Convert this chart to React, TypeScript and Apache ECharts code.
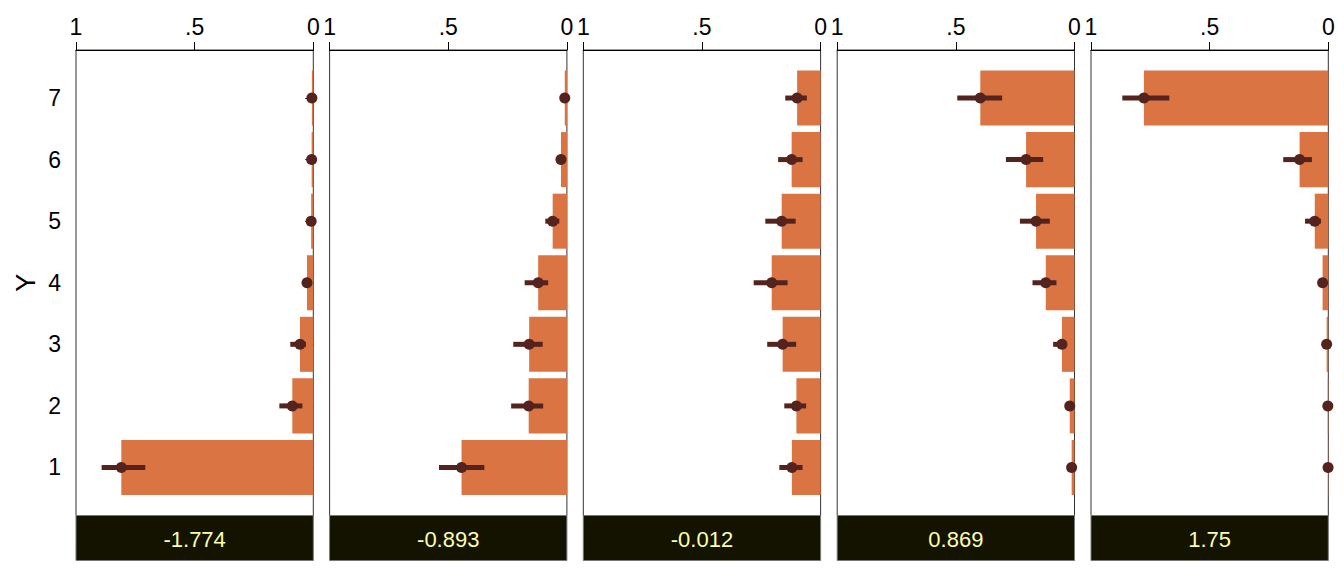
import React, { useEffect, useRef } from "react";
import * as echarts from "echarts";

const categories = [1, 2, 3, 4, 5, 6, 7];
const panelLabels = ["-1.774", "-0.893", "-0.012", "0.869", "1.75"];
const xTickValues = [0, 0.5, 1];
const xTickLabels = ["0", ".5", "1"];

// probability estimates per panel, for Y = 1..7
const est1 = [0.809, 0.0885, 0.056, 0.0265, 0.009, 0.007, 0.006];
const est2 = [0.444, 0.161, 0.159, 0.121, 0.06, 0.025, 0.009];
const est3 = [0.121, 0.102, 0.16, 0.206, 0.164, 0.122, 0.099];
const est4 = [0.012, 0.02, 0.053, 0.121, 0.162, 0.204, 0.397];
const est5 = [0.001, 0.002, 0.007, 0.024, 0.057, 0.121, 0.777];

const lo1 = [0.708, 0.046, 0.031, 0.016, 0.003, 0.002, 0.002];
const hi1 = [0.892, 0.143, 0.097, 0.038, 0.016, 0.013, 0.011];
const lo2 = [0.348, 0.1, 0.102, 0.079, 0.032, 0.012, 0.003];
const hi2 = [0.539, 0.235, 0.226, 0.178, 0.091, 0.04, 0.018];
const lo3 = [0.076, 0.061, 0.103, 0.139, 0.105, 0.076, 0.058];
const hi3 = [0.174, 0.153, 0.225, 0.282, 0.233, 0.179, 0.149];
const lo4 = [0.005, 0.01, 0.035, 0.076, 0.104, 0.132, 0.305];
const hi4 = [0.02, 0.032, 0.09, 0.177, 0.23, 0.289, 0.494];
const lo5 = [0.0, 0.0, 0.002, 0.012, 0.031, 0.069, 0.67];
const hi5 = [0.003, 0.005, 0.013, 0.036, 0.098, 0.19, 0.868];

const estimates = [est1, est2, est3, est4, est5];
const lows = [lo1, lo2, lo3, lo4, lo5];
const highs = [hi1, hi2, hi3, hi4, hi5];

const BAR_COLOR = "#DB7443";
const PT_COLOR = "#55231E";
const STRIP_COLOR = "#131300";
const STRIP_TEXT = "#FFFFAA";
const FONT = "Liberation Sans, Arial, sans-serif";

export default function App() {
  const ref = useRef<HTMLDivElement>(null);
  useEffect(() => {
    if (!ref.current) return;
    const chart = echarts.init(ref.current, null, { renderer: "svg" });
    const lefts = [76, 329.6, 583.3, 837.2, 1091];
    const width = 237.3;
    const top = 50;
    const height = 465.5;

    const grids: any[] = [];
    const xAxes: any[] = [];
    const yAxes: any[] = [];
    const series: any[] = [];
    const graphics: any[] = [];

    lefts.forEach((left, i) => {
      grids.push({
        left,
        top,
        width,
        height,
        show: true,
        borderColor: "#333",
        borderWidth: 1,
        backgroundColor: "#fff",
        containLabel: false,
      });
      xAxes.push({
        gridIndex: i,
        type: "value",
        position: "top",
        inverse: true,
        min: 0,
        max: 1,
        interval: 0.5,
        splitLine: { show: false },
        axisLine: { show: true, lineStyle: { color: "#000", width: 1 } },
        axisTick: { show: true, length: 8, lineStyle: { color: "#000", width: 1 } },
        axisLabel: {
          show: true,
          margin: 12,
          fontSize: 23,
          fontFamily: FONT,
          color: "#000",
          formatter: (v: number) => {
            const k = xTickValues.findIndex((t) => Math.abs(t - v) < 1e-9);
            return k >= 0 ? xTickLabels[k] : "";
          },
        },
      });
      yAxes.push({
        gridIndex: i,
        type: "value",
        min: 0.22,
        max: 7.78,
        splitLine: { show: false },
        axisLine: { show: false },
        name: i === 0 ? "Y" : "",
        nameLocation: "middle",
        nameRotate: 90,
        nameGap: 37,
        nameTextStyle: { fontSize: 27, fontFamily: FONT, color: "#000" },
        axisTick: {
          show: i === 0,
          length: 8,
          customValues: categories,
          lineStyle: { color: "#000", width: 1 },
        },
        axisLabel: {
          show: i === 0,
          margin: 15,
          fontSize: 23,
          fontFamily: FONT,
          color: "#000",
          customValues: categories,
          formatter: (v: number) => String(v),
        },
      });

      const est = estimates[i];
      const lo = lows[i];
      const hi = highs[i];

      series.push({
        type: "custom",
        xAxisIndex: i,
        yAxisIndex: i,
        silent: true,
        data: categories.map((c, k) => [est[k], c]),
        renderItem: (params: any, api: any) => {
          const v = api.value(0);
          const y = api.value(1);
          const p0 = api.coord([0, y + 0.447]);
          const p1 = api.coord([v, y - 0.447]);
          return {
            type: "rect",
            shape: {
              x: Math.min(p0[0], p1[0]),
              y: Math.min(p0[1], p1[1]),
              width: Math.abs(p1[0] - p0[0]),
              height: Math.abs(p1[1] - p0[1]),
            },
            style: { fill: BAR_COLOR },
          };
        },
        z: 2,
      });

      series.push({
        type: "custom",
        xAxisIndex: i,
        yAxisIndex: i,
        silent: true,
        data: categories.map((c, k) => [lo[k], hi[k], c]),
        renderItem: (params: any, api: any) => {
          const y = api.value(2);
          const a = api.coord([api.value(0), y]);
          const b = api.coord([api.value(1), y]);
          return {
            type: "line",
            shape: { x1: a[0], y1: a[1], x2: b[0], y2: b[1] },
            style: { stroke: PT_COLOR, lineWidth: 5 },
          };
        },
        z: 3,
      });

      series.push({
        type: "scatter",
        xAxisIndex: i,
        yAxisIndex: i,
        silent: true,
        symbol: "circle",
        symbolSize: 11,
        itemStyle: { color: PT_COLOR, opacity: 1 },
        data: categories.map((c, k) => [est[k], c]),
        z: 4,
      });

      graphics.push({
        type: "rect",
        shape: { x: left, y: top + height, width, height: 45 },
        style: { fill: STRIP_COLOR, stroke: "#777", lineWidth: 1 },
        z: 10,
      });
      graphics.push({
        type: "text",
        x: left + width / 2,
        y: top + height + 24,
        style: {
          text: panelLabels[i],
          fill: STRIP_TEXT,
          font: `22px ${FONT}`,
          align: "center",
          verticalAlign: "middle",
        },
        z: 11,
      });
    });

    chart.setOption({
      animation: false,
      backgroundColor: "#fff",
      grid: grids,
      xAxis: xAxes,
      yAxis: yAxes,
      series,
      graphic: graphics,
    });
    return () => chart.dispose();
  }, []);
  return <div ref={ref} style={{ width: 1344, height: 576, position: "absolute", left: 0, top: 0 }} />;
}
